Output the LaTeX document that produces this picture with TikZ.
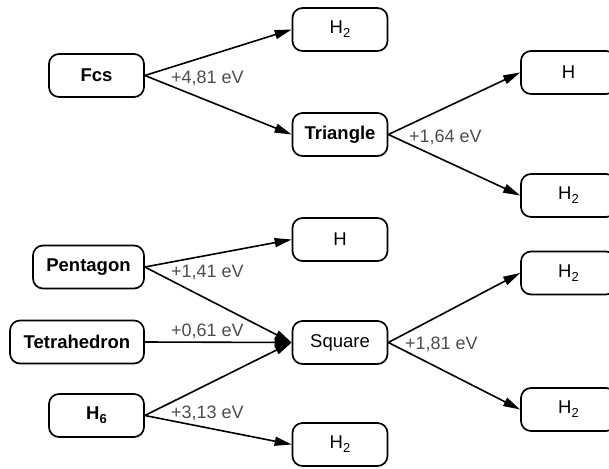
\documentclass[tikz,border=0pt]{standalone}
\usepackage{fontspec}
\setmainfont{Liberation Sans}
\usetikzlibrary{arrows.meta}
\newcommand{\sbx}[1]{\raisebox{-0.4ex}{\fontsize{13}{13}\selectfont #1}}
\begin{document}
\begin{tikzpicture}[x=1pt,y=-1pt,
  box/.style={draw, line width=1.7pt, rounded corners=10pt, minimum width=95pt, minimum height=43pt, inner sep=0pt, font=\fontsize{18.5}{20}\selectfont},
  bbox/.style={box, font=\fontsize{18.5}{20}\selectfont\bfseries},
  conn/.style={line width=1.6pt, -{Triangle[length=17pt,width=9pt]}},
  lab/.style={anchor=base west, inner sep=0pt, text=black!70, font=\fontsize{18}{20}\selectfont}]
\useasboundingbox (0,0) rectangle (609,468);
% nodes
\node[bbox] (fcs) at (96.5,75.5) {Fcs};
\node[box] (h2a) at (340,29.5) {H\sbx{2}};
\node[bbox] (tri) at (340,134.5) {Triangle};
\node[box] (ha) at (568.5,72.5) {H};
\node[box] (h2b) at (568.5,195.5) {H\sbx{2}};
\node[bbox, minimum width=111pt] (pen) at (88.5,267) {Pentagon};
\node[bbox, minimum width=134pt] (tet) at (77,342) {Tetrahedron};
\node[bbox] (h6) at (96.5,415.5) {H\sbx{\bfseries 6}};
\node[box] (hb) at (340,239.5) {H};
\node[box] (sq) at (340,342.5) {Square};
\node[box] (h2c) at (340,444.5) {H\sbx{2}};
\node[box] (h2d) at (568.5,273) {H\sbx{2}};
\node[box] (h2e) at (568.5,409.5) {H\sbx{2}};
% connectors
\draw[conn] (fcs.east) -- (h2a.west);
\draw[conn] (fcs.east) -- (tri.west);
\draw[conn] (tri.east) -- (ha.west);
\draw[conn] (tri.east) -- (h2b.west);
\draw[conn] (pen.east) -- (hb.west);
\draw[conn] (pen.east) -- (sq.west);
\draw[conn] (tet.east) -- (sq.west);
\draw[conn] (h6.east) -- (sq.west);
\draw[conn] (h6.east) -- (h2c.west);
\draw[conn] (sq.east) -- (h2d.west);
\draw[conn] (sq.east) -- (h2e.west);
% labels
\node[lab] (l1) at (171,84) {+4,81 eV};
\node[lab] (l2) at (409,142) {+1,64 eV};
\node[lab] (l3) at (171,277) {+1,41 eV};
\node[lab] (l4) at (171,336) {+0,61 eV};
\node[lab] (l5) at (171,418) {+3,13 eV};
\node[lab] (l6) at (405,349) {+1,81 eV};
\end{tikzpicture}
\end{document}
